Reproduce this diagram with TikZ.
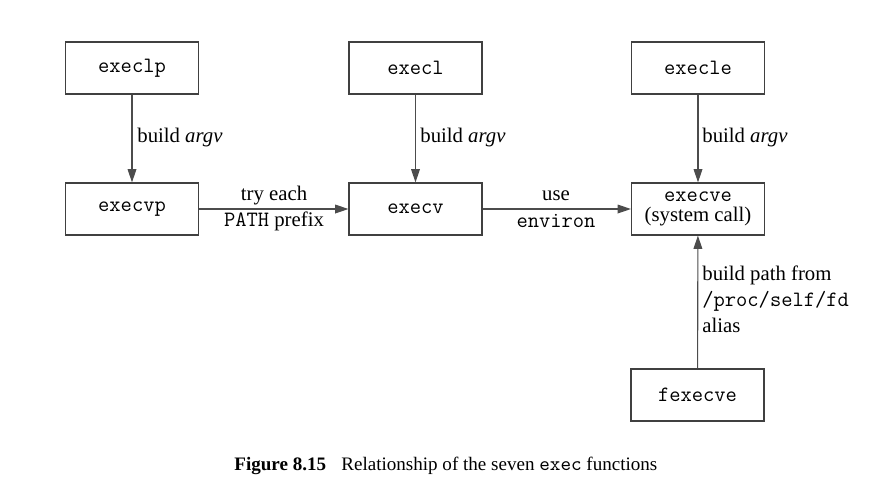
\documentclass[tikz,border=0pt]{standalone}
\usepackage{fontspec}
\setmainfont{Liberation Serif}
\usetikzlibrary{arrows.meta}
\newcommand{\mymono}{\ttfamily\fontsize{11.6}{13}\selectfont}
\begin{document}
\begin{tikzpicture}[x=0.53pt,y=-0.53pt,
  fbox/.style={draw=black!75,line width=0.6pt,minimum width=70.5pt,minimum height=27.6pt,inner sep=0pt,align=center,font=\mymono},
  conn/.style={draw=black!70,line width=0.6pt,-{Triangle[length=7pt,width=4.6pt]}},
  lbl/.style={font=\fontsize{11}{12}\selectfont,inner sep=0pt,align=left}]
\useasboundingbox (0,0) rectangle (893,497);
\node[fbox] (execlp) at (132,68) {execlp};
\node[fbox] (execvp) at (132,209) {execvp};
\node[fbox] (execl) at (415.5,68) {execl};
\node[fbox] (execv) at (415.5,209) {execv};
\node[fbox] (execle) at (698,68) {execle};
\node[fbox,font=\fontsize{11}{12}\selectfont] (execve) at (698,209) {{\mymono execve}\\[-1pt](system call)};
\node[fbox] (fexecve) at (697.5,395) {fexecve};
\draw[conn] (execlp) -- (execvp);
\draw[conn] (execl) -- (execv);
\draw[conn] (execle) -- (execve);
\draw[conn] (execvp) -- (execv);
\draw[conn] (execv) -- (execve);
\draw[conn] (fexecve) -- (execve);
\node[lbl,anchor=west] (l1) at (137,137) {build \textit{argv}};
\node[lbl,anchor=west] (l2) at (420,137) {build \textit{argv}};
\node[lbl,anchor=west] (l3) at (702,137) {build \textit{argv}};
\node[lbl] (l4) at (274,196) {try each};
\node[lbl] (l5) at (274,221) {{\mymono PATH} prefix};
\node[lbl] (l6) at (556,196) {use};
\node[lbl] (l7) at (556,221) {{\mymono environ}};
\node[lbl,anchor=west] (l8) at (702,275) {build path from};
\node[lbl,anchor=west] (l9) at (702,301) {{\mymono /proc/self/fd}};
\node[lbl,anchor=west] (l10) at (702,325) {alias};
\node[lbl,anchor=west,font=\fontsize{10.1}{12}\selectfont] (cap) at (234,466) {\textbf{Figure 8.15}\hspace{0.8em}Relationship of the seven {\ttfamily\fontsize{10.7}{12}\selectfont exec} functions};
\end{tikzpicture}
\end{document}
